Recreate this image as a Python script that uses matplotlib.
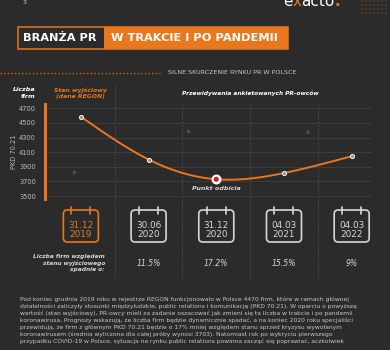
import numpy as np
import matplotlib
matplotlib.use("Agg")
import matplotlib.pyplot as plt
from matplotlib.patches import FancyBboxPatch, Rectangle
import matplotlib.transforms as mtransforms

# ---------------- data ----------------
dates = ["31.12\n2019", "30.06\n2020", "31.12\n2020", "04.03\n2021", "04.03\n2022"]
firms = [4585, 4000, 3730, 3815, 4045]
drops = ["", "11.5%", "17.2%", "15.5%", "9%"]
yticks = [3500, 3700, 3900, 4100, 4300, 4500, 4700]
paragraph = [
    "Pod koniec grudnia 2019 roku w rejestrze REGON funkcjonowało w Polsce 4470 firm, które w ramach głównej",
    "działalności zaliczyły stosunki międzyludzkie, public relations i komunikację (PKD 70.21). W oparciu o powyższą",
    "wartość (stan wyjściowy), PR-owcy mieli za zadanie oszacować jak zmieni się ta liczba w trakcie i po pandemii",
    "koronawirusa. Prognozy wskazują, że liczba firm będzie dynamicznie spadać, a na koniec 2020 roku specjaliści",
    "przewidują, że firm z głównym PKD 70.21 będzie o 17% mniej względem stanu sprzed kryzysu wywołanym",
    "koronawirusem (średnia wyliczona dla całej próby wynosi 3703). Natomiast rok po wykryciu pierwszego",
    "przypadku COVID-19 w Polsce, sytuacja na rynku public relations powinna zacząć się poprawiać, aczkolwiek",
]

BG = "#2b2b2b"
ORANGE = "#e8771e"
LIGHT = "#d6d6d6"
GRID = "#3c3c3c"
plt.rcParams["font.family"] = ["DejaVu Sans"]

fig = plt.figure(figsize=(3.9, 3.5), dpi=100, facecolor=BG)
ov = fig.add_axes([0, 0, 1, 1])
ov.set_xlim(0, 390)
ov.set_ylim(350, 0)
ov.axis("off")
ov.set_zorder(0)


def rect(l, t, r, b):
    return [l / 390, 1 - b / 350, (r - l) / 390, (b - t) / 350]


ax = fig.add_axes(rect(45, 104, 372, 199))
ax.set_zorder(1)
ax.patch.set_alpha(0)
ax.set_xlim(-0.53, 4.30)
ax.set_ylim(3460, 4759)
ax.set_yticks(yticks)
ax.set_xticks([])
ax.grid(axis="y", color=GRID, lw=0.8)
ax.tick_params(axis="y", length=0, pad=6.5, labelsize=4.8, labelcolor="#bdbdbd")
for s in ["top", "right", "bottom"]:
    ax.spines[s].set_visible(False)
ax.spines["left"].set_color(ORANGE)
ax.spines["left"].set_linewidth(2.2)

# smooth curve (natural cubic spline through the points)
x = np.arange(len(firms), dtype=float)
y = np.array(firms, dtype=float)
n = len(x)
h = np.diff(x)
A = np.zeros((n, n))
rhs = np.zeros(n)
A[0, 0] = A[-1, -1] = 1
for i in range(1, n - 1):
    A[i, i - 1] = h[i - 1]
    A[i, i] = 2 * (h[i - 1] + h[i])
    A[i, i + 1] = h[i]
    rhs[i] = 6 * ((y[i + 1] - y[i]) / h[i] - (y[i] - y[i - 1]) / h[i - 1])
M = np.linalg.solve(A, rhs)
xs = np.linspace(x[0], x[-1], 300)
ys = np.zeros_like(xs)
for k, t in enumerate(xs):
    i = min(int(t), n - 2)
    a, b = x[i], x[i + 1]
    hh = b - a
    ys[k] = (M[i] * (b - t) ** 3 / (6 * hh) + M[i + 1] * (t - a) ** 3 / (6 * hh)
             + (y[i] / hh - M[i] * hh / 6) * (b - t) + (y[i + 1] / hh - M[i + 1] * hh / 6) * (t - a))
ax.plot(xs, ys, color=ORANGE, lw=1.4, zorder=3, solid_capstyle="round")

imin = int(np.argmin(firms))
others = [i for i in range(n) if i != imin]
ax.scatter([x[i] for i in others], [firms[i] for i in others], s=9, facecolor="#8f959c",
           edgecolor="#f0f0f0", linewidth=0.7, zorder=4)
ax.scatter([x[imin]], [firms[imin]], s=38, facecolor="white", edgecolor="white", zorder=4)
ax.scatter([x[imin]], [firms[imin]], s=13, facecolor="#d7141a", edgecolor="none", zorder=5)
ax.annotate("Punkt odbicia", xy=(x[imin], firms[imin]), xytext=(0, -9), textcoords="offset pixels",
            ha="center", va="center", fontsize=4.6, style="italic", fontweight="bold", color=LIGHT)

# blended transform: x from chart data, y in pixels
bt = mtransforms.blended_transform_factory(ax.transData, ov.transData)

# column separators
for sx, top in zip([0.5, 1.5, 2.5, 3.5], [85, 104, 104, 104]):
    ov.plot([sx, sx], [top, 279], transform=bt, color="#474747", lw=0.7, ls=(0, (2, 1.5)), zorder=0)

# header
ov.text(25, 2, "3", color=LIGHT, fontsize=4.5, ha="center", va="center")
t1 = ov.text(283, 5.5, "e", color="white", fontsize=11, va="baseline", ha="left")
t2 = ov.annotate("x", xy=(1, 0), xycoords=t1, color=ORANGE, fontsize=11, va="bottom", ha="left")
t3 = ov.annotate("acto", xy=(1, 0), xycoords=t2, color="white", fontsize=11, va="bottom", ha="left")
ov.annotate(".", xy=(1, 0), xycoords=t3, color=ORANGE, fontsize=11, va="bottom", ha="left",
            fontweight="bold")
gx, gy = np.meshgrid(np.arange(362, 390, 4), np.arange(1, 16, 4))
ov.scatter(gx.ravel(), gy.ravel(), s=0.9, color="#8a5424", edgecolor="none")

ov.add_patch(Rectangle((104, 26.5), 184, 22.5, facecolor=ORANGE, edgecolor="none"))
ov.add_patch(Rectangle((17.5, 26.5), 270.5, 22.5, facecolor="none", edgecolor=ORANGE, lw=1.1))
ov.text(23, 38, "BRANŻA PR", color="white", fontsize=8.2, fontweight="bold", va="center", ha="left")
ov.text(111, 38, "W TRAKCIE I PO PANDEMII", color="white", fontsize=8.2, fontweight="bold",
        va="center", ha="left")

# section header
ov.plot([0, 160], [72.5, 72.5], color=ORANGE, lw=1.0, ls=(0, (1, 1.6)), alpha=0.8)
ov.text(232, 72.5, "SILNE SKURCZENIE RYNKU PR W POLSCE", color="#c8c8c8", fontsize=4.6,
        ha="center", va="center")

ov.text(35, 93, "Liczba\nfirm", color="white", fontsize=4.6, style="italic", fontweight="bold",
        ha="right", va="center", multialignment="right", linespacing=1.3)
ov.text(0, 93, "Stan wyjściowy\n(dane REGON)", transform=bt, color=ORANGE, fontsize=4.4,
        style="italic", fontweight="bold", ha="center", va="center", linespacing=1.3)
ov.text(2.5, 93, "Przewidywania ankietowanych PR-owców", transform=bt, color="white", fontsize=4.2,
        style="italic", fontweight="bold", ha="center", va="center")
ov.text(13.5, 152, "PKD 70.21", rotation=90, color="#bdbdbd", fontsize=4.8, ha="center", va="center")

# decorative triangles
for tx, ty, ch in [(75, 173, "▶"), (189, 132, "▶"), (308, 132, "▲")]:
    ov.text(tx, ty, ch, color="#6e4830", fontsize=4, ha="center", va="center")

# calendars
for i, d in enumerate(dates):
    cx = ax.transData.transform((i, 0))[0]
    col = ORANGE if i == 0 else LIGHT
    ov.add_patch(FancyBboxPatch((cx - 17.5, 210), 35, 32, boxstyle="round,pad=0,rounding_size=4",
                                facecolor="none", edgecolor=col, lw=1.2))
    for dx in (-9.5, 9.5):
        ov.plot([cx + dx, cx + dx], [206.5, 213.5], color=col, lw=1.2, solid_capstyle="round")
    ov.text(cx, 230, d, color=col, fontsize=6.4, ha="center", va="center", linespacing=0.95)
    if drops[i]:
        ov.text(cx, 263, drops[i], color=LIGHT, fontsize=5.6, style="italic", ha="center", va="center")

ov.text(105, 263, "Liczba firm względem\nstanu wyjściowego\nspadnie o:", color=LIGHT, fontsize=4.2,
        style="italic", fontweight="bold", ha="right", va="center", multialignment="right",
        linespacing=1.25)

for k, line in enumerate(paragraph):
    ov.text(20, 299 + 7.1 * k, line, color="#c8c8c8", fontsize=4.3, ha="left", va="center")

fig.savefig("out.png", dpi=100, facecolor=BG)
